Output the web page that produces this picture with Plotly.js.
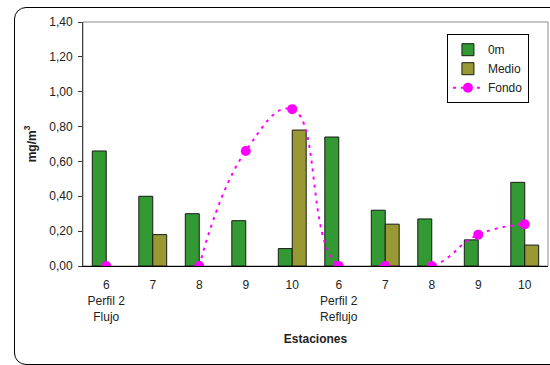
<!DOCTYPE html>
<html>
<head>
<meta charset="utf-8">
<script src="https://cdn.plot.ly/plotly-3.0.1.min.js"></script>
<style>
  html, body { margin: 0; padding: 0; background: #fff; overflow: hidden; }
  #frame {
    position: absolute; left: 14px; top: 7px; width: 560px; height: 358px;
    border: 1.5px solid #000; border-radius: 12px; box-sizing: border-box;
  }
  #chart { position: absolute; left: 0; top: 0; width: 550px; height: 365px; }
</style>
</head>
<body>
<div id="frame"></div>
<div id="chart"></div>
<script>
// Stations along Perfil 2, first on the flood tide (Flujo), then on the ebb (Reflujo)
const stations = ['6', '7', '8', '9', '10', '6', '7', '8', '9', '10'];
const groupLabels = ['Perfil 2<br>Flujo', '', '', '', '', 'Perfil 2<br>Reflujo', '', '', '', ''];

// Concentrations (mg/m3) by depth; null = no bar / no sample
const surface = [0.66, 0.40, 0.30, 0.26, 0.10, 0.74, 0.32, 0.27, 0.15, 0.48];   // 0m
const middle  = [null, 0.18, null, null, 0.78, null, 0.24, null, null, 0.12];   // Medio
const bottom  = [0.00, null, 0.00, 0.66, 0.90, 0.00, 0.00, 0.00, 0.18, 0.24];   // Fondo

const pos = stations.map((_, i) => i);
const bounds = stations.map((_, i) => i - 0.5).concat([stations.length - 0.5]);
const tickText = stations.map((s, i) => groupLabels[i] ? s + '<br>' + groupLabels[i] : s);

const font = { family: 'Liberation Sans, Arial, sans-serif', size: 12, color: '#222' };

const traces = [
  {
    type: 'bar', name: '0m', x: pos, y: surface,
    marker: { color: '#339933', line: { color: '#1a1a1a', width: 1 } }
  },
  {
    type: 'bar', name: 'Medio', x: pos, y: middle,
    marker: { color: '#999933', line: { color: '#1a1a1a', width: 1 } }
  },
  {
    type: 'scatter', mode: 'lines+markers', name: 'Fondo', x: pos, y: bottom,
    connectgaps: false,
    line: { color: '#ff00ff', width: 2, dash: '3px,5px', shape: 'spline', smoothing: 1.3 },
    marker: { color: '#ff00ff', size: 10 }
  }
];

const xRange = [-0.5, stations.length - 0.5];
const yRange = [0, 1.4];

const layout = {
  width: 550, height: 365,
  margin: { l: 83, r: 2, t: 22, b: 99 },
  paper_bgcolor: 'rgba(0,0,0,0)',
  plot_bgcolor: 'rgba(0,0,0,0)',
  font: font,
  separators: ',.',
  barmode: 'group',
  bargap: 0.4,
  bargroupgap: 0,
  showlegend: true,
  legend: {
    x: 0.959, xanchor: 'right', y: 0.95, yanchor: 'top',
    bgcolor: '#fff', bordercolor: '#000', borderwidth: 1,
    font: font, tracegroupgap: 0
  },
  xaxis: {
    range: xRange, tickmode: 'array', tickvals: pos, ticktext: tickText,
    ticks: 'outside', ticklen: 8, tickcolor: 'rgba(0,0,0,0)',
    showline: true, linecolor: '#000', linewidth: 1,
    showgrid: false, zeroline: false, tickfont: font,
    title: { text: '<b>Estaciones</b>', font: font, standoff: 12 }
  },
  xaxis2: {
    overlaying: 'x', anchor: 'y', range: xRange,
    tickmode: 'array', tickvals: bounds, ticks: 'outside', ticklen: 4,
    tickcolor: '#000', showticklabels: false, showgrid: false, zeroline: false, showline: false
  },
  xaxis3: {
    overlaying: 'x', anchor: 'y', range: xRange,
    tickmode: 'array', tickvals: bounds, ticks: 'inside', ticklen: 4,
    tickcolor: '#000', showticklabels: false, showgrid: false, zeroline: false, showline: false
  },
  yaxis: {
    range: yRange, dtick: 0.2, tickformat: '.2f',
    ticks: 'outside', ticklen: 4, tickcolor: '#333', ticklabelstandoff: 3,
    showline: true, linecolor: '#444', linewidth: 1,
    showgrid: false, zeroline: false, tickfont: font,
    title: { text: '<b>mg/m<sup>3</sup></b>', font: font, standoff: 10 }
  },
  yaxis2: {
    overlaying: 'y', anchor: 'x', side: 'left', range: yRange, dtick: 0.2,
    ticks: 'inside', ticklen: 4, tickcolor: '#333',
    showticklabels: false, showgrid: false, zeroline: false, showline: false
  },
  shapes: [
    { type: 'rect', xref: 'paper', yref: 'paper', x0: 0, x1: 1, y0: 0, y1: 1,
      line: { color: '#8c8c8c', width: 1 }, layer: 'below' }
  ]
};

Plotly.newPlot('chart', traces, layout, { staticPlot: true, displayModeBar: false });
</script>
</body>
</html>
